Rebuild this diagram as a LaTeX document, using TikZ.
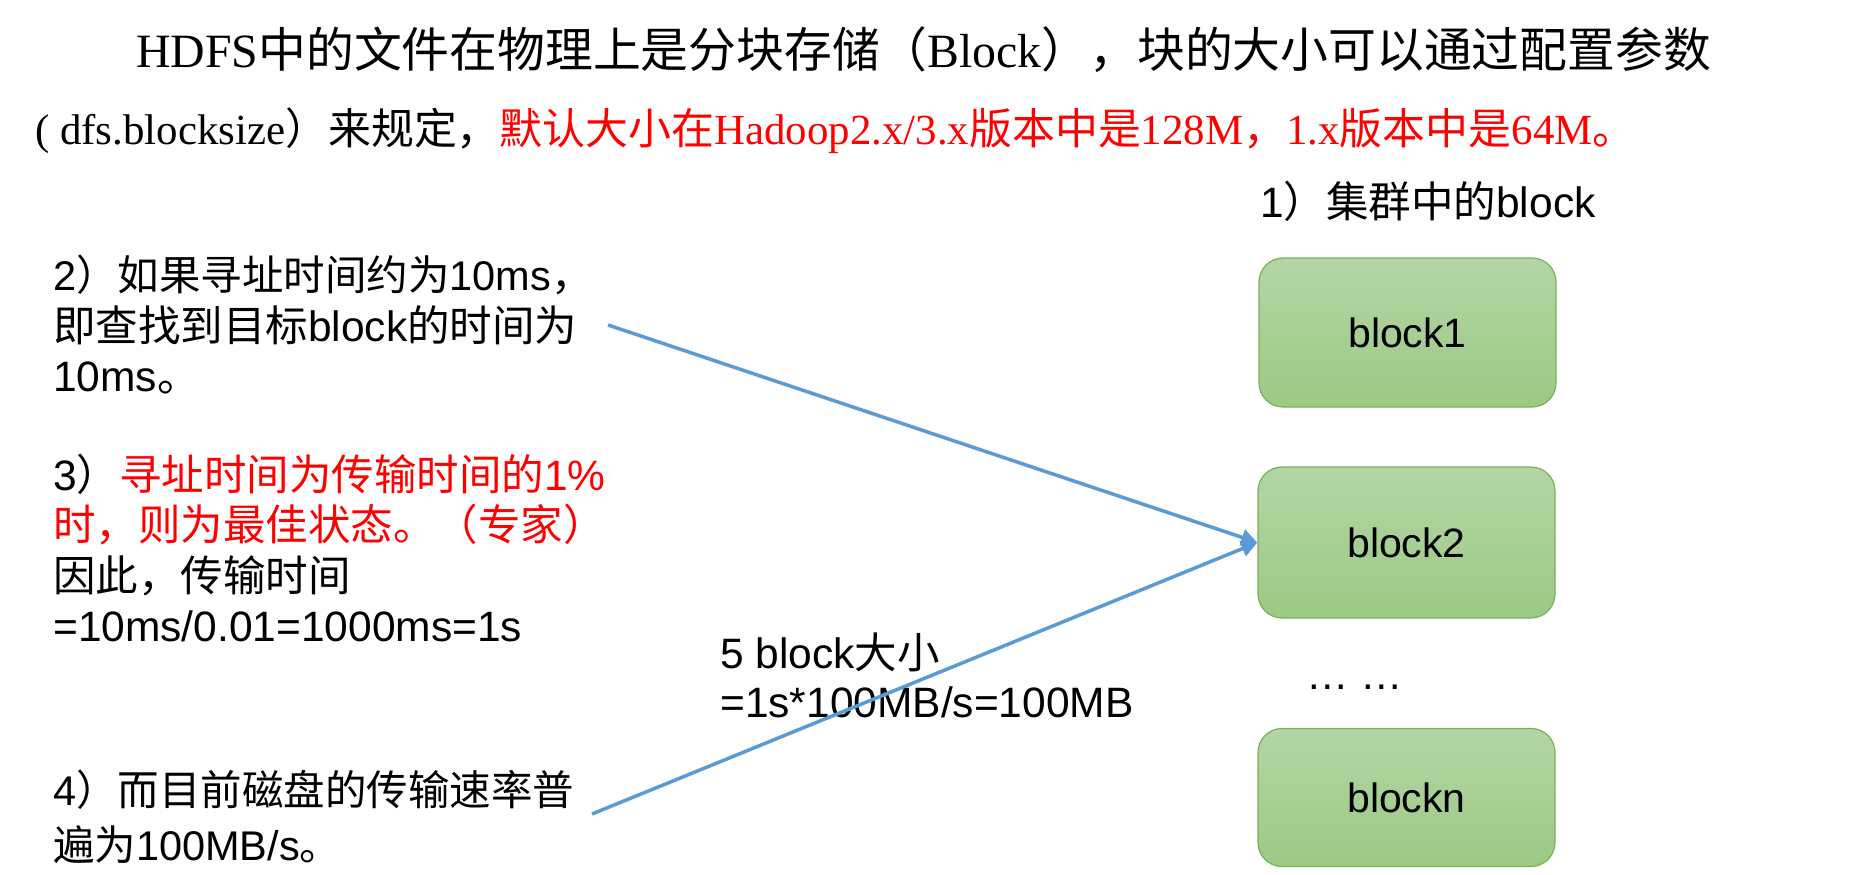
\documentclass[tikz,border=0pt]{standalone}
\usepackage{fontspec}
\setmainfont{Liberation Serif}
\newfontfamily\cjk{Noto Sans CJK SC}
\newfontfamily\arialf{Liberation Sans}
\usetikzlibrary{arrows.meta,calc}
\newcommand\zh[1]{{\cjk #1}}
\definecolor{arrowblue}{HTML}{5B9BD5}
\definecolor{gtop}{HTML}{B4D5A5}
\definecolor{gbot}{HTML}{9CC985}
\definecolor{gborder}{HTML}{78B257}
\tikzset{
  titleline/.style={anchor=base west, inner sep=0pt},
  bodyline/.style={anchor=base west, inner sep=0pt, font=\arialf\fontsize{42.5}{50}\selectfont},
  smallline/.style={bodyline, font=\arialf\fontsize{41.5}{50}\selectfont},
  blockbox/.style={draw=gborder, line width=1.2pt, rounded corners=24pt, top color=gtop, bottom color=gbot,
    minimum width=297pt, font=\arialf\fontsize{41}{50}\selectfont, inner sep=0pt},
  link/.style={draw=arrowblue, line width=3.5pt, -{Triangle[length=16pt,width=16pt]}}
}
\begin{document}
\begin{tikzpicture}[x=1pt,y=-1pt]
\useasboundingbox (0,0) rectangle (1856,875);
% title
\node[titleline, font=\fontsize{47.8}{56}\selectfont] (title1) at (136,68)
  {HDFS\zh{中的文件在物理上是分块存储（}Block\zh{），块的大小可以通过配置参数}};
\node[titleline, font=\fontsize{42.9}{50}\selectfont] (title2) at (35,144)
  {( dfs.blocksize\zh{）来规定，}\textcolor{red}{\zh{默认大小在}Hadoop2.x/3.x\zh{版本中是}128M\zh{，}1.x\zh{版本中是}64M\zh{。}}};
% left texts
\node[smallline] (t2a) at (53,290) {2\zh{）如果寻址时间约为}10ms\zh{，}};
\node[bodyline] (t2b) at (53,341) {\zh{即查找到目标}block\zh{的时间为}};
\node[bodyline] (t2c) at (53,391) {10ms\zh{。}};
\node[bodyline] (t3a) at (53,490) {3\zh{）}\textcolor{red}{\zh{寻址时间为传输时间的}1\%}};
\node[bodyline] (t3b) at (53,540) {\textcolor{red}{\zh{时，则为最佳状态。（专家）}}};
\node[bodyline] (t3c) at (53,591) {\zh{因此，传输时间}};
\node[bodyline] (t3d) at (53,641) {=10ms/0.01=1000ms=1s};
\node[smallline] (t4a) at (53,805) {4\zh{）而目前磁盘的传输速率普}};
\node[smallline] (t4b) at (53,860) {\zh{遍为}100MB/s\zh{。}};
\node[bodyline] (t5a) at (720,668) {5 block\zh{大小}};
\node[bodyline] (t5b) at (720,717) {=1s*100MB/s=100MB};
\node[bodyline] (t1) at (1260,217) {1\zh{）集群中的}block};
% blocks
\node[blockbox, minimum height=149pt] (b1) at (1407.5,332.5) {block1};
\node[blockbox, minimum height=151pt] (b2) at (1406.5,542.5) {block2};
\node[blockbox, minimum height=138pt] (bn) at (1406.5,797.5) {blockn};
\node[bodyline] (dots) at (1306,689) {… …};
% arrows
\coordinate (s2) at (608,325);
\coordinate (s4) at (592,814);
\draw[link] (s2) -- (b2.west);
\draw[link] (s4) -- (b2.west);
\end{tikzpicture}
\end{document}
